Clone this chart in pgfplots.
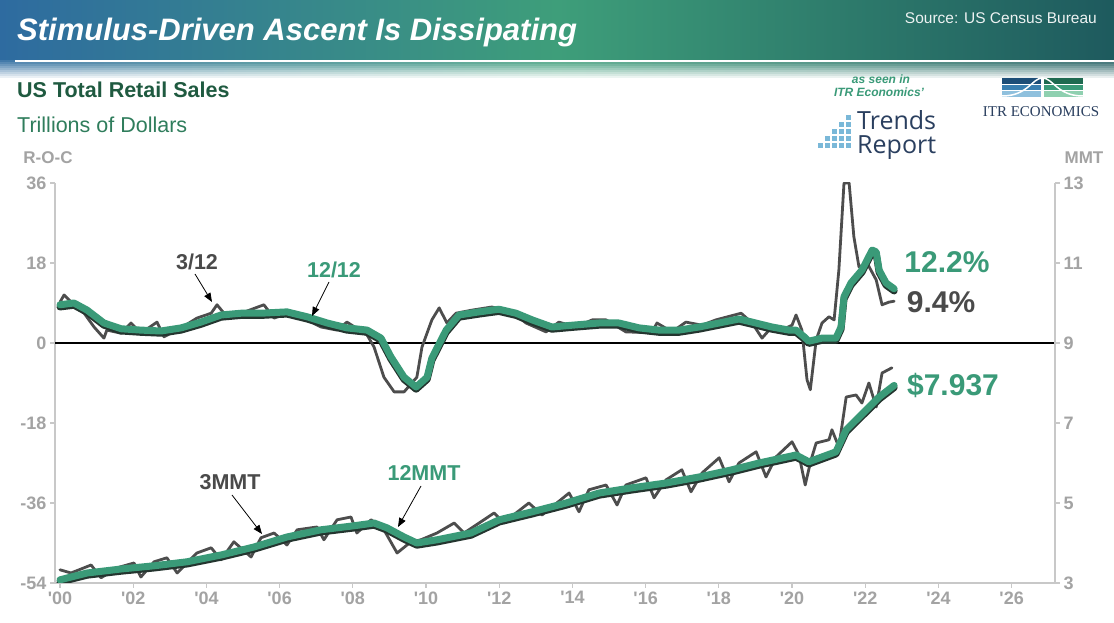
\documentclass[border=0pt]{standalone}
\usepackage{fontspec}
\setmainfont{Liberation Sans}
\newfontfamily\serifITR{Liberation Serif}
\newfontfamily\opensans{Open Sans}
\usepackage{pgfplots}
\pgfplotsset{compat=1.18}
\usetikzlibrary{arrows.meta}
\definecolor{grn}{HTML}{3A9A78}
\definecolor{shadow}{HTML}{24352F}
\definecolor{dgray}{HTML}{4D4D4D}
\definecolor{txtgray}{HTML}{4A4A4A}
\definecolor{axgray}{HTML}{C8C8C8}
\definecolor{lblgray}{HTML}{A3A3A3}
\definecolor{hdrL}{HTML}{2E6BA0}
\definecolor{hdrM}{HTML}{3E9E7A}
\definecolor{hdrR}{HTML}{1E5A5E}
\definecolor{dkgreen}{HTML}{1F5A40}
\definecolor{midgreen}{HTML}{2F7D5C}
\definecolor{navy}{HTML}{2A3F5F}
\definecolor{iconblue}{HTML}{7AB8D8}
\definecolor{lgA}{HTML}{1D4E78}
\definecolor{lgB}{HTML}{3A7FB0}
\definecolor{lgC}{HTML}{8FC0DD}
\definecolor{lgD}{HTML}{1E6A50}
\definecolor{lgE}{HTML}{3A9A78}
\definecolor{lgF}{HTML}{8FD0B0}
\begin{document}
\begin{tikzpicture}
\begin{scope}[x=1pt,y=1pt]
\path[use as bounding box] (0,0) rectangle (1114,623);
\fill[white] (0,0) rectangle (1114,623);
% header
\shade[left color=hdrL, right color=hdrR, middle color=hdrM] (0,623) rectangle (1114,623-80);
\foreach \i in {0,...,9}{
  \pgfmathsetmacro\op{(\i+1)/10}
  \fill[white,opacity=\op] (0,623-60-2*\i) rectangle (1114,623-62-2*\i);
}
\fill[white] (0,623-80) rectangle (1114,623-84);
\draw[white, line width=2.5pt] (15,623-61) -- (1114,623-61);
\node[anchor=base west, inner sep=0, text=white, font=\fontsize{31}{31}\selectfont\bfseries\itshape] at (17,623-41) {Stimulus-Driven Ascent Is Dissipating};
\node[anchor=base east, inner sep=0, text=white!92!hdrR, font=\fontsize{15.5}{15.5}\selectfont] at (1097,623-24) {Source: US Census Bureau};
% subtitles
\node[anchor=base west, inner sep=0, text=dkgreen, font=\fontsize{21.5}{21.5}\selectfont\bfseries] at (17,623-98) {US Total Retail Sales};
\node[anchor=base west, inner sep=0, text=midgreen, font=\fontsize{21.5}{21.5}\selectfont] at (17,623-133) {Trillions of Dollars};
% Trends Report logo
\node[inner sep=0, text=grn, font=\fontsize{12}{12}\selectfont\bfseries\itshape] at (881,623-79) {as seen in};
\node[inner sep=0, text=grn, font=\fontsize{12}{12}\selectfont\bfseries\itshape] at (879,623-92) {ITR Economics'};
\node[anchor=base west, inner sep=0, text=navy, font=\fontsize{25}{25}\selectfont\opensans] at (857,623-130) {Trends};
\node[anchor=base west, inner sep=0, text=navy, font=\fontsize{25}{25}\selectfont\opensans] at (857,623-154) {Report};
\foreach \c in {0,...,4}{
  \foreach \r in {0,...,\c}{
    \fill[iconblue] (818+7*\c,623-148+7*\r) rectangle ++(5,5);
  }
}
% ITR Economics logo
\fill[lgA] (1002,623-78) rectangle (1041,623-84);
\fill[lgB] (1002,623-85) rectangle (1041,623-90);
\fill[lgC] (1002,623-91) rectangle (1041,623-97);
\fill[lgD] (1044,623-78) rectangle (1083,623-84);
\fill[lgE] (1044,623-85) rectangle (1083,623-90);
\fill[lgF] (1044,623-91) rectangle (1083,623-97);
\draw[white, line width=1.5pt] (1002,623-96) .. controls (1028,623-96) and (1032,623-78) .. (1042.5,623-78) .. controls (1053,623-78) and (1057,623-96) .. (1083,623-96);
\node[inner sep=0, text=navy, font=\fontsize{15}{15}\selectfont\serifITR] at (1041,623-112) {ITR ECONOMICS};
% axis titles
\node[inner sep=0, text=lblgray, font=\fontsize{17}{17}\selectfont\bfseries] at (48,623-158) {R-O-C};
\node[inner sep=0, text=lblgray, font=\fontsize{17}{17}\selectfont\bfseries] at (1084,623-158) {MMT};
\end{scope}

\begin{axis}[
  at={(55pt,40pt)}, anchor=south west,
  scale only axis, width=1000pt, height=400pt,
  xmin=1999.863, xmax=2027.186,
  ymin=-54, ymax=36,
  axis x line*=bottom, axis y line*=left,
  xtick={2000,2002,...,2026},
  xticklabels={\textquotesingle00,\textquotesingle02,\textquotesingle04,\textquotesingle06,\textquotesingle08,\textquotesingle10,\textquotesingle12,\textquotesingle14,\textquotesingle16,\textquotesingle18,\textquotesingle20,\textquotesingle22,\textquotesingle24,\textquotesingle26},
  minor x tick num=1,
  ytick={-54,-36,-18,0,18,36},
  yticklabels={-54,-36,-18,0,18,36},
  tick align=outside,
  major tick length=5pt, minor tick length=5pt,
  axis line style={draw=axgray, line width=1.3pt},
  tick style={draw=axgray, line width=1.3pt},
  tick label style={font=\fontsize{18}{18}\selectfont\bfseries, text=lblgray},
]
\addplot[black, line width=2.6pt] coordinates {(1999.863,0) (2027.186,0)};
% 3/12
\addplot[dgray, line width=2.8pt, line join=round, line cap=round] coordinates {
(2000.0,9.2) (2000.11,10.8) (2000.38,8.6) (2000.66,6.7) (2000.93,3.6) (2001.2,1.1) (2001.28,2.9) (2001.67,2.2) (2001.94,4.5) (2002.21,2.2) (2002.65,4.7) (2002.84,1.4) (2003.31,3.4) (2003.74,5.6) (2004.13,6.7) (2004.29,8.6) (2004.48,6.7) (2004.95,6.7) (2005.57,8.6) (2005.85,5.6) (2006.2,6.7) (2006.75,5.2) (2007.13,3.6) (2007.57,2.9) (2007.84,4.7) (2008.39,1.8) (2008.58,-0.9) (2008.85,-7.7) (2009.13,-11.0) (2009.4,-11.0) (2009.75,-7.7) (2009.89,-0.9) (2010.16,5.2) (2010.36,7.9) (2010.57,4.5) (2010.82,6.7) (2011.26,7.4) (2011.8,8.1) (2012.35,7.0) (2012.73,4.5) (2013.28,2.5) (2013.63,4.7) (2014.1,3.6) (2014.54,5.2) (2014.92,5.2) (2015.46,2.5) (2016.17,2.3) (2016.31,4.5) (2016.72,2.5) (2017.1,4.7) (2017.54,4.0) (2017.92,5.2) (2018.61,6.7) (2018.91,4.5) (2019.18,1.1) (2019.45,3.6) (2019.84,3.4) (2020.0,4.0) (2020.11,6.3) (2020.27,2.9) (2020.41,-8.3) (2020.5,-10.5) (2020.66,0.7) (2020.82,4.5) (2021.01,5.9) (2021.15,5.2) (2021.28,16.4) (2021.42,36) (2021.56,36) (2021.69,23.9) (2021.83,17.1) (2022.05,18.0) (2022.3,14.2) (2022.46,8.6) (2022.65,9.2) (2022.79,9.4)
};
% 12/12 shadow and line
\addplot[shadow, line width=7pt, line join=round, line cap=round, yshift=-2.2pt] coordinates {
(2000.0,8.6) (2000.38,9.0) (2000.74,7.4) (2001.2,4.5) (2001.67,3.2) (2002.21,2.9) (2002.76,2.7) (2003.31,3.4) (2003.85,4.7) (2004.4,6.3) (2004.95,6.7) (2005.49,6.7) (2006.2,7.0) (2006.75,5.9) (2007.3,4.5) (2007.84,3.4) (2008.39,2.9) (2008.77,1.1) (2009.04,-3.1) (2009.4,-7.7) (2009.73,-9.9) (2010.03,-7.7) (2010.16,-3.4) (2010.55,2.9) (2010.9,6.3) (2011.45,7.0) (2011.99,7.6) (2012.46,6.7) (2012.9,5.2) (2013.44,3.6) (2013.99,4.0) (2014.73,4.5) (2015.27,4.5) (2015.82,3.4) (2016.37,2.9) (2016.91,2.9) (2017.46,3.6) (2018.01,4.5) (2018.55,5.4) (2018.91,4.7) (2019.45,3.6) (2019.92,2.9) (2020.11,2.9) (2020.33,1.4) (2020.46,0.4) (2020.82,1.1) (2021.2,1.1) (2021.34,3.6) (2021.42,10.4) (2021.61,13.5) (2021.91,16.4) (2022.19,20.9) (2022.3,20.5) (2022.38,16.4) (2022.57,13.5) (2022.79,12.2)
};
\addplot[grn, line width=7pt, line join=round, line cap=round] coordinates {
(2000.0,8.6) (2000.38,9.0) (2000.74,7.4) (2001.2,4.5) (2001.67,3.2) (2002.21,2.9) (2002.76,2.7) (2003.31,3.4) (2003.85,4.7) (2004.4,6.3) (2004.95,6.7) (2005.49,6.7) (2006.2,7.0) (2006.75,5.9) (2007.3,4.5) (2007.84,3.4) (2008.39,2.9) (2008.77,1.1) (2009.04,-3.1) (2009.4,-7.7) (2009.73,-9.9) (2010.03,-7.7) (2010.16,-3.4) (2010.55,2.9) (2010.9,6.3) (2011.45,7.0) (2011.99,7.6) (2012.46,6.7) (2012.9,5.2) (2013.44,3.6) (2013.99,4.0) (2014.73,4.5) (2015.27,4.5) (2015.82,3.4) (2016.37,2.9) (2016.91,2.9) (2017.46,3.6) (2018.01,4.5) (2018.55,5.4) (2018.91,4.7) (2019.45,3.6) (2019.92,2.9) (2020.11,2.9) (2020.33,1.4) (2020.46,0.4) (2020.82,1.1) (2021.2,1.1) (2021.34,3.6) (2021.42,10.4) (2021.61,13.5) (2021.91,16.4) (2022.19,20.9) (2022.3,20.5) (2022.38,16.4) (2022.57,13.5) (2022.79,12.2)
};
\end{axis}

\begin{axis}[
  at={(55pt,40pt)}, anchor=south west,
  scale only axis, width=1000pt, height=400pt,
  xmin=1999.863, xmax=2027.186,
  ymin=3, ymax=13,
  axis x line=none, axis y line*=right,
  ytick={3,5,7,9,11,13},
  yticklabels={3,5,7,9,11,13},
  tick align=outside,
  major tick length=5pt,
  axis line style={draw=axgray, line width=1.3pt},
  tick style={draw=axgray, line width=1.3pt},
  tick label style={font=\fontsize{18}{18}\selectfont\bfseries, text=lblgray},
]
% 3MMT
\addplot[dgray, line width=2.8pt, line join=round, line cap=round] coordinates {
(2000.0,3.33) (2000.30,3.25) (2000.85,3.45) (2001.12,3.13) (2001.56,3.38) (2002.02,3.5) (2002.21,3.15) (2002.57,3.53) (2002.92,3.63) (2003.2,3.25) (2003.74,3.75) (2004.13,3.88) (2004.4,3.58) (2004.75,4.03) (2005.22,3.65) (2005.49,4.13) (2005.85,4.25) (2006.2,3.95) (2006.48,4.33) (2007.02,4.4) (2007.21,4.08) (2007.57,4.58) (2007.95,4.65) (2008.11,4.25) (2008.5,4.58) (2008.85,4.33) (2009.21,3.75) (2009.59,4.03) (2009.86,4.08) (2010.3,4.25) (2010.77,4.5) (2011.04,4.25) (2011.5,4.53) (2011.86,4.75) (2012.13,4.5) (2012.46,4.75) (2012.81,5.0) (2013.17,4.7) (2013.91,5.25) (2014.18,4.78) (2014.45,5.33) (2014.92,5.45) (2015.22,4.95) (2015.46,5.45) (2016.01,5.63) (2016.23,5.13) (2016.56,5.58) (2016.99,5.83) (2017.24,5.28) (2017.54,5.75) (2018.01,6.13) (2018.28,5.53) (2018.55,6.0) (2019.02,6.28) (2019.29,5.65) (2019.56,6.15) (2020.0,6.53) (2020.19,6.2) (2020.36,5.45) (2020.52,6.08) (2020.66,6.5) (2021.01,6.58) (2021.09,6.83) (2021.28,6.4) (2021.48,7.65) (2021.75,7.7) (2021.91,7.5) (2022.1,8.0) (2022.3,7.4) (2022.46,8.25) (2022.73,8.38)
};
% 12MMT
\addplot[shadow, line width=7pt, line join=round, line cap=round, yshift=-2.2pt] coordinates {
(2000.0,3.08) (2000.74,3.25) (2001.67,3.35) (2002.57,3.43) (2003.47,3.53) (2004.4,3.7) (2005.3,3.9) (2006.2,4.15) (2007.13,4.33) (2008.03,4.43) (2008.58,4.5) (2008.93,4.38) (2009.4,4.15) (2009.75,4.0) (2010.3,4.08) (2011.23,4.25) (2012.0,4.58) (2012.9,4.78) (2013.83,5.0) (2014.73,5.25) (2015.63,5.38) (2016.56,5.5) (2017.46,5.65) (2018.36,5.83) (2019.1,6.0) (2020.11,6.2) (2020.46,6.03) (2021.2,6.28) (2021.48,6.83) (2022.03,7.33) (2022.38,7.65) (2022.79,7.94)
};
\addplot[grn, line width=7pt, line join=round, line cap=round] coordinates {
(2000.0,3.08) (2000.74,3.25) (2001.67,3.35) (2002.57,3.43) (2003.47,3.53) (2004.4,3.7) (2005.3,3.9) (2006.2,4.15) (2007.13,4.33) (2008.03,4.43) (2008.58,4.5) (2008.93,4.38) (2009.4,4.15) (2009.75,4.0) (2010.3,4.08) (2011.23,4.25) (2012.0,4.58) (2012.9,4.78) (2013.83,5.0) (2014.73,5.25) (2015.63,5.38) (2016.56,5.5) (2017.46,5.65) (2018.36,5.83) (2019.1,6.0) (2020.11,6.2) (2020.46,6.03) (2021.2,6.28) (2021.48,6.83) (2022.03,7.33) (2022.38,7.65) (2022.79,7.94)
};
\end{axis}

\begin{scope}[x=1pt,y=1pt]
% annotations
\node[inner sep=0, text=txtgray, font=\fontsize{21.5}{21.5}\selectfont\bfseries] at (197,623-262) {3/12};
\draw[black, line width=0.8pt, -{Triangle[length=9pt,width=7pt]}] (195,623-274) -- (212,623-302);
\node[inner sep=0, text=grn, font=\fontsize{21.5}{21.5}\selectfont\bfseries] at (334,623-270) {12/12};
\draw[black, line width=0.8pt, -{Triangle[length=9pt,width=7pt]}] (329,623-282) -- (312,623-316);
\node[inner sep=0, text=txtgray, font=\fontsize{21.5}{21.5}\selectfont\bfseries] at (230,623-482) {3MMT};
\draw[black, line width=0.8pt, -{Triangle[length=9pt,width=7pt]}] (232,623-495) -- (262,623-534);
\node[inner sep=0, text=grn, font=\fontsize{21.5}{21.5}\selectfont\bfseries] at (424,623-473) {12MMT};
\draw[black, line width=0.8pt, -{Triangle[length=9pt,width=7pt]}] (421,623-486) -- (398,623-527);
\node[inner sep=0, text=grn, font=\fontsize{30}{30}\selectfont\bfseries] at (947,623-262) {12.2\%};
\node[inner sep=0, text=txtgray, font=\fontsize{30}{30}\selectfont\bfseries] at (941,623-302) {9.4\%};
\node[inner sep=0, text=grn, font=\fontsize{30}{30}\selectfont\bfseries] at (953,623-385) {\$7.937};
\end{scope}
\end{tikzpicture}
\end{document}
